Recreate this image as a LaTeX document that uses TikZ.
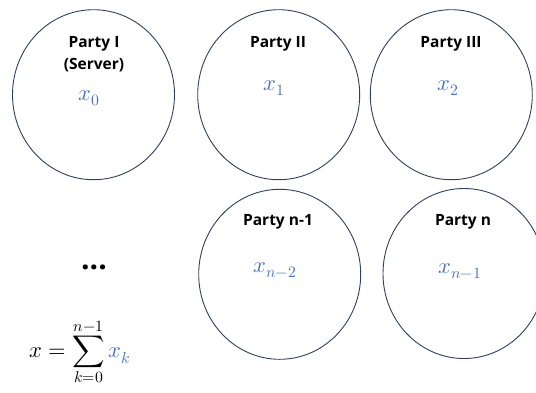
\documentclass[tikz,border=0pt]{standalone}
\usepackage{unicode-math}
\setmainfont{Open Sans}
\setmathfont{Latin Modern Math}
\usetikzlibrary{shapes.geometric}
\definecolor{ringcol}{HTML}{2F3F62}
\definecolor{sharecol}{HTML}{4472C4}
\begin{document}
\begin{tikzpicture}[x=1pt,y=-1pt,
  party/.style={draw=ringcol,line width=0.9pt,ellipse,minimum width=162pt,minimum height=170pt,inner sep=0pt},
  ptext/.style={font=\fontsize{15.5}{22}\selectfont\bfseries,text=black,align=center,inner sep=0pt},
  share/.style={text=sharecol,font=\fontsize{22.5}{22.5}\selectfont,inner sep=0pt}]
\useasboundingbox (0,0) rectangle (536,392);
\clip (0,0) rectangle (536,392);
\node[party] (p1) at (93.5,94.7) {};
\node[party] (p2) at (278.7,94.7) {};
\node[party] (p3) at (451.3,94.7) {};
\node[party] (p4) at (279.7,274.3) {};
\node[party] (p5) at (464,273.5) {};
\node[ptext] (t1) at (94,54.5) {Party I\\(Server)};
\node[ptext] (t2) at (278,43.5) {Party II};
\node[ptext] (t3) at (451,43.5) {Party III};
\node[ptext] (t4) at (278,221.5) {Party n-1};
\node[ptext] (t5) at (463,222) {Party n};
\node[share] (s1) at (89,98) {$x_0$};
\node[share] (s2) at (274,88) {$x_1$};
\node[share] (s3) at (448,88) {$x_2$};
\node[share] (s4) at (275,270) {$x_{n-2}$};
\node[share] (s5) at (460,271) {$x_{n-1}$};
\node[font=\fontsize{30}{30}\selectfont\bfseries,inner sep=0pt] (dots) at (94,267) {...};
\node[font=\fontsize{22.5}{22.5}\selectfont,inner sep=0pt] (sum) at (80,352) {$\displaystyle x=\sum_{k=0}^{n-1}\textcolor{sharecol}{x_k}$};
\end{tikzpicture}
\end{document}
